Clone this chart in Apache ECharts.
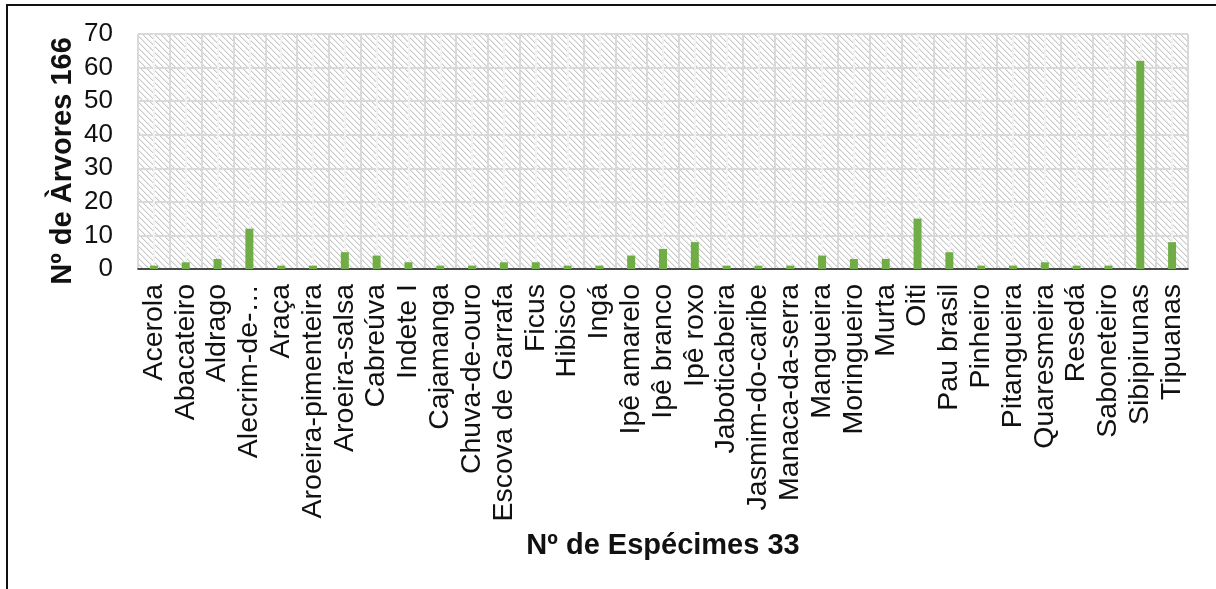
<!DOCTYPE html>
<html>
<head>
<meta charset="utf-8">
<script src="https://cdn.jsdelivr.net/npm/echarts@6/dist/echarts.min.js"></script>
<style>
html,body{margin:0;padding:0;background:#fff;}
#chart{width:1216px;height:589px;}
</style>
</head>
<body>
<div id="chart"></div>
<script>
const categories = ["Acerola","Abacateiro","Aldrago","Alecrim-de-…","Araça","Aroeira-pimenteira","Aroeira-salsa","Cabreúva","Indete I","Cajamanga","Chuva-de-ouro","Escova de Garrafa","Ficus","Hibisco","Ingá","Ipê amarelo","Ipê branco","Ipê roxo","Jaboticabeira","Jasmim-do-caribe","Manaca-da-serra","Mangueira","Moringueiro","Murta","Oiti","Pau brasil","Pinheiro","Pitangueira","Quaresmeira","Resedá","Saboneteiro","Sibipirunas","Tipuanas"];
const values = [1,2,3,12,1,1,5,4,2,1,1,2,2,1,1,4,6,8,1,1,1,4,3,3,15,5,1,1,2,1,1,62,8];
const yMin = 0, yMax = 70, yInterval = 10;
const yTitle = "Nº de Àrvores 166";
const xTitle = "Nº de Espécimes 33";

// diagonal hatch pattern for plot background
const P = 6;
const pc = document.createElement('canvas');
pc.width = P; pc.height = P;
const pctx = pc.getContext('2d');
const img = pctx.createImageData(P, P);
for (let y = 0; y < P; y++) {
  for (let x = 0; x < P; x++) {
    const d = ((x - y) % P + P) % P;
    const c = d === 0 ? 200 : (d === 1 ? 232 : 255);
    const i = (y * P + x) * 4;
    img.data[i] = c; img.data[i+1] = c; img.data[i+2] = c; img.data[i+3] = 255;
  }
}
pctx.putImageData(img, 0, 0);

const FONT = '"Liberation Sans", Arial, sans-serif';
const chart = echarts.init(document.getElementById('chart'), null, {renderer: 'canvas'});
chart.setOption({
  animation: false,
  backgroundColor: '#fff',
  grid: {
    left: 138, top: 34, width: 1050, height: 235,
    show: true, borderWidth: 0,
    backgroundColor: {image: pc, repeat: 'repeat'}
  },
  xAxis: {
    type: 'category',
    data: categories,
    boundaryGap: true,
    axisLine: {show: true, lineStyle: {color: '#1a1a1a', width: 1.5}},
    axisTick: {show: false},
    splitLine: {show: true, interval: 0, lineStyle: {color: '#d9d9d9', width: 2}},
    axisLabel: {
      interval: 0, rotate: 90, margin: 15,
      fontFamily: FONT, fontSize: 28.5, color: '#111'
    }
  },
  yAxis: {
    type: 'value',
    min: yMin, max: yMax, interval: yInterval,
    axisLine: {show: false},
    axisTick: {show: false},
    splitLine: {show: true, lineStyle: {color: '#d9d9d9', width: 2}},
    axisLabel: {margin: 25, fontFamily: FONT, fontSize: 26, color: '#111'}
  },
  series: [{
    type: 'bar',
    data: values,
    barWidth: 8,
    itemStyle: {color: '#70ad47'},
    markLine: {
      z: 1,
      silent: true,
      symbol: 'none',
      label: {show: false},
      lineStyle: {color: '#f2f2f2', width: 2, type: 'solid'},
      data: categories.map(c => ({xAxis: c}))
    }
  }],
  graphic: [
    {
      type: 'rect', shape: {x: 7, y: 5, width: 1230, height: 610},
      style: {fill: 'none', stroke: '#111', lineWidth: 2}, silent: true
    },
    {
      type: 'text', x: 63, y: 161, rotation: Math.PI / 2,
      style: {text: yTitle, font: 'bold 29px ' + FONT, fill: '#111', textAlign: 'center', textVerticalAlign: 'middle'}
    },
    {
      type: 'text', x: 663, y: 546,
      style: {text: xTitle, font: 'bold 29px ' + FONT, fill: '#111', textAlign: 'center', textVerticalAlign: 'middle'}
    }
  ]
});
</script>
</body>
</html>
